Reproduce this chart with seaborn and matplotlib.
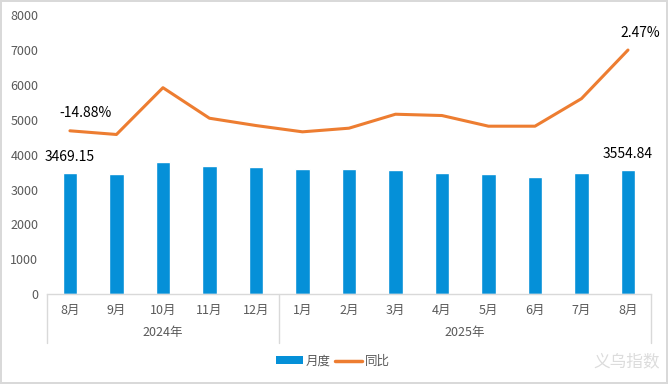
import matplotlib
matplotlib.use("Agg")
import matplotlib.pyplot as plt
import matplotlib.transforms as mtransforms
from matplotlib.lines import Line2D
from matplotlib.patches import Patch
import numpy as np
import pandas as pd
import seaborn as sns

# data
months = ["8月", "9月", "10月", "11月", "12月", "1月", "2月", "3月", "4月", "5月", "6月", "7月", "8月"]
years = ["2024年", "2025年"]
year_sizes = [5, 8]
monthly = [3469.15, 3447, 3789, 3675, 3647, 3590, 3590, 3561, 3476, 3447, 3362, 3476, 3554.84]
yoy = [-14.88, -15.67, -5.62, -12.18, -13.75, -15.10, -14.32, -11.32, -11.60, -13.89, -13.89, -7.97, 2.47]

BLUE = "#0590D8"
ORANGE = "#ED7D31"
GREY = "#595959"
LINE_GREY = "#D9D9D9"

sns.set_style("white")
plt.rcParams["font.family"] = ["Noto Sans CJK SC", "DejaVu Sans"]

df = pd.DataFrame({"pos": np.arange(len(months)), "month": months,
                   "monthly": monthly, "yoy": yoy})

fig = plt.figure(figsize=(6.68, 3.84), dpi=100, edgecolor=LINE_GREY, linewidth=1.5)
ax = fig.add_axes([0.0699, 0.2336, 0.905, 0.7274])

sns.barplot(data=df, x="pos", y="monthly", color=BLUE, width=0.32,
            saturation=1, ax=ax)
ax.set_xlim(-0.5, len(months) - 0.5)
ax.set_ylim(0, 8000)
ax.set_yticks(np.arange(0, 8001, 1000))
ax.set_xticks(df["pos"])
ax.set_xticklabels(months)
ax.set_xlabel("")
ax.set_ylabel("")
ax.tick_params(axis="both", length=0, labelsize=9, labelcolor=GREY)
ax.tick_params(axis="x", pad=7)
ax.tick_params(axis="y", pad=6)
for side in ["left", "right", "top"]:
    ax.spines[side].set_visible(False)
ax.spines["bottom"].set_color(LINE_GREY)
ax.spines["bottom"].set_linewidth(1)

# secondary (hidden) axis for yoy line
ax2 = ax.twinx()
sns.lineplot(data=df, x="pos", y="yoy", color=ORANGE, linewidth=2.2, ax=ax2)
ax2.set_xlim(ax.get_xlim())
ax2.set_ylim(-50, 10)
ax2.axis("off")

# data labels on first and last points
first, last = 0, len(months) - 1
label_kw = dict(textcoords="offset points", ha="center", va="center",
                fontsize=10, color="black")
ax.annotate(f"{monthly[first]:.2f}", (df["pos"][first], monthly[first]),
            xytext=(0, 11.5), **label_kw)
ax.annotate(f"{monthly[last]:.2f}", (df["pos"][last], monthly[last]),
            xytext=(0, 11.5), **label_kw)
ax2.annotate(f"{yoy[first]:.2f}%", (df["pos"][first], yoy[first]),
             xytext=(11.5, 13), **label_kw)
ax2.annotate(f"{yoy[last]:.2f}%", (df["pos"][last], yoy[last]),
             xytext=(9, 12.2), **label_kw)

# second level of the category axis: years with separators
trans = mtransforms.blended_transform_factory(ax.transData, ax.transAxes)
edges = np.concatenate([[0], np.cumsum(year_sizes)]) - 0.5
for e in edges:
    ax.add_line(Line2D([e, e], [0, -0.176], transform=trans, color=LINE_GREY,
                       linewidth=1, clip_on=False))
for i, yr in enumerate(years):
    mid = (edges[i] + edges[i + 1]) / 2
    ax.text(mid, -0.136, yr, transform=trans, ha="center", va="center",
            fontsize=9, color=GREY)

handles = [Patch(facecolor=BLUE, edgecolor="none"),
           Line2D([0], [0], color=ORANGE, linewidth=2.5)]
fig.legend(handles, ["月度", "同比"], loc="center", bbox_to_anchor=(0.498, 0.059),
           ncol=2, frameon=False, fontsize=9, labelcolor=GREY,
           handlelength=2.2, handleheight=0.6, handletextpad=0.2,
           columnspacing=0.3)

fig.text(0.988, 0.058, "义乌指数", ha="right", va="center", fontsize=12,
         color="#DCDCDC")

fig.savefig("out.png", dpi=100, edgecolor=fig.get_edgecolor())
